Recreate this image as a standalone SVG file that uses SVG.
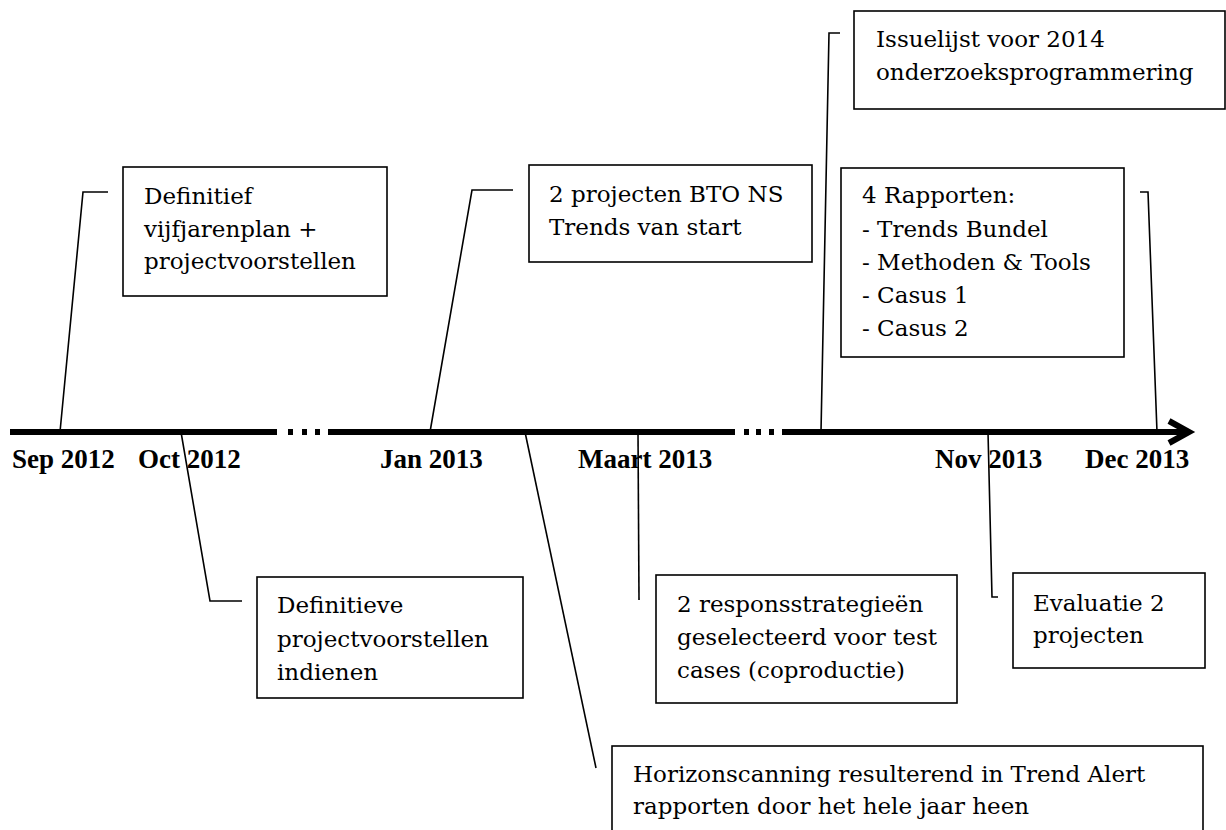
<svg xmlns="http://www.w3.org/2000/svg" width="1226" height="830" viewBox="0 0 1226 830">
<style>
.box{fill:#fff;stroke:#000;stroke-width:1.6}
.t{font-family:"DejaVu Serif","Liberation Serif",serif;font-size:23px;fill:#000}
.d{font-family:"Liberation Serif","Times New Roman",serif;font-size:27px;font-weight:bold;fill:#000}
.c{fill:none;stroke:#000;stroke-width:1.6}
.axis{fill:none;stroke:#000;stroke-width:6}
</style>
<rect width="1226" height="830" fill="#fff"/>
<g id="timeline">
<line class="axis" x1="10" y1="432" x2="277" y2="432"/>
<rect x="288" y="429" width="5" height="6"/>
<rect x="302" y="429" width="5" height="6"/>
<rect x="315" y="429" width="5" height="6"/>
<line class="axis" x1="328" y1="432" x2="735" y2="432"/>
<rect x="744" y="429" width="5" height="6"/>
<rect x="756" y="429" width="5" height="6"/>
<rect x="769" y="429" width="5" height="6"/>
<line class="axis" x1="782" y1="432" x2="1188" y2="432"/>
<polyline class="axis" points="1169,421 1189,432 1169,443" stroke-linejoin="miter"/>
</g>
<g id="dates">
<text class="d" x="12" y="468">Sep 2012</text>
<text class="d" x="138" y="468">Oct 2012</text>
<text class="d" x="380" y="468">Jan 2013</text>
<text class="d" x="578" y="468">Maart 2013</text>
<text class="d" x="935" y="468">Nov 2013</text>
<text class="d" x="1085" y="468">Dec 2013</text>
</g>
<g id="connectors">
<polyline class="c" points="60,432 83,192 108,192"/>
<polyline class="c" points="181,432 210,601 242,601"/>
<polyline class="c" points="430,432 472,190 513,190"/>
<polyline class="c" points="525,432 596,768"/>
<polyline class="c" points="638,432 639,600"/>
<polyline class="c" points="821,432 829,33 840,33"/>
<polyline class="c" points="988,432 992,597 998,597"/>
<polyline class="c" points="1157,432 1148,192 1140,192"/>
</g>
<g id="n-definitief">
<rect class="box" x="123" y="167" width="264" height="129"/>
<text class="t" x="144" y="204">Definitief</text>
<text class="t" x="144" y="237">vijfjarenplan +</text>
<text class="t" x="144" y="269">projectvoorstellen</text>
</g>
<g id="n-projecten">
<rect class="box" x="529" y="165" width="283" height="97"/>
<text class="t" x="549" y="202">2 projecten BTO NS</text>
<text class="t" x="549" y="235">Trends van start</text>
</g>
<g id="n-issuelijst">
<rect class="box" x="854" y="11" width="371" height="98"/>
<text class="t" x="876" y="47">Issuelijst voor 2014</text>
<text class="t" x="876" y="80">onderzoeksprogrammering</text>
</g>
<g id="n-rapporten">
<rect class="box" x="841" y="168" width="283" height="189"/>
<text class="t" x="862" y="203">4 Rapporten:</text>
<text class="t" x="862" y="237">- Trends Bundel</text>
<text class="t" x="862" y="270">- Methoden &amp; Tools</text>
<text class="t" x="862" y="303">- Casus 1</text>
<text class="t" x="862" y="336">- Casus 2</text>
</g>
<g id="n-definitieve">
<rect class="box" x="257" y="577" width="266" height="121"/>
<text class="t" x="277" y="613">Definitieve</text>
<text class="t" x="277" y="647">projectvoorstellen</text>
<text class="t" x="277" y="680">indienen</text>
</g>
<g id="n-respons">
<rect class="box" x="656" y="575" width="301" height="128"/>
<text class="t" x="677" y="612">2 responsstrategieën</text>
<text class="t" x="677" y="645">geselecteerd voor test</text>
<text class="t" x="677" y="678">cases (coproductie)</text>
</g>
<g id="n-evaluatie">
<rect class="box" x="1013" y="573" width="192" height="95"/>
<text class="t" x="1033" y="611">Evaluatie 2</text>
<text class="t" x="1033" y="643">projecten</text>
</g>
<g id="n-horizon">
<rect class="box" x="612" y="746" width="591" height="100"/>
<text class="t" x="633" y="782">Horizonscanning resulterend in Trend Alert</text>
<text class="t" x="633" y="814">rapporten door het hele jaar heen</text>
</g>
</svg>
